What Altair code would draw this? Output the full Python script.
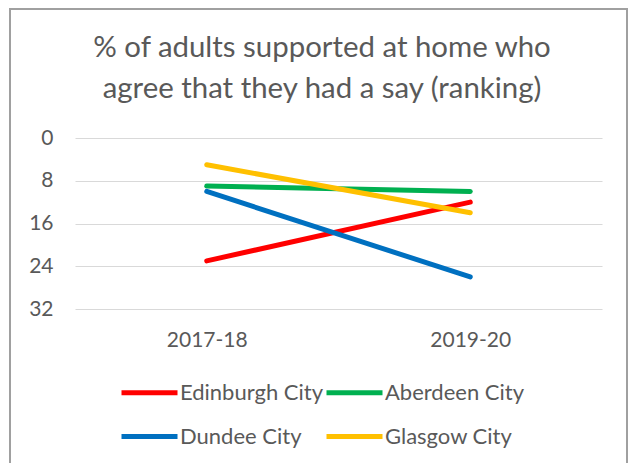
import altair as alt
import pandas as pd

years = ["2017-18", "2019-20"]
councils = ["Edinburgh City", "Aberdeen City", "Dundee City", "Glasgow City"]
edinburgh = [23, 12]
aberdeen = [9, 10]
dundee = [10, 26]
glasgow = [5, 14]
colors = ["#FF0000", "#00B050", "#0070C0", "#FFC000"]
y_ticks = [0, 8, 16, 24, 32]
title_lines = ["% of adults supported at home who", "agree that they had a say (ranking)"]

rows = []
for name, vals in zip(councils, [edinburgh, aberdeen, dundee, glasgow]):
    for yr, v in zip(years, vals):
        rows.append({"Council": name, "Year": yr, "Rank": v})
df = pd.DataFrame(rows)

TEXT = "#595959"
FONT = "Lato"

lines = alt.Chart(df).mark_line(strokeWidth=5, strokeCap="round").encode(
    x=alt.X("Year:N", sort=years, title=None,
            axis=alt.Axis(labelAngle=0, ticks=False, domain=False, grid=False,
                          labelPadding=20, labelFontSize=21, labelColor=TEXT, labelFont=FONT)),
    y=alt.Y("Rank:Q", scale=alt.Scale(domain=[0, 32], reverse=True, nice=False, zero=False),
            title=None,
            axis=alt.Axis(values=y_ticks, ticks=False, domain=False, gridColor="#D9D9D9",
                          gridWidth=1, labelPadding=22, labelFontSize=21, labelColor=TEXT,
                          labelFont=FONT)),
    color=alt.Color("Council:N", scale=alt.Scale(domain=councils, range=colors),
                    legend=alt.Legend(orient="none", legendX=44, legendY=224, columns=2,
                                      direction="horizontal",
                                      title=None, symbolType="stroke", symbolSize=3136,
                                      symbolStrokeWidth=5, labelFontSize=22, labelFont=FONT,
                                      labelColor=TEXT, labelLimit=300, columnPadding=-9,
                                      rowPadding=2, labelOffset=0)),
)

frame_df = pd.DataFrame({"a": [0]})
frame_color = "#A0A0A0"
left = alt.Chart(frame_df).mark_rule(color=frame_color, strokeWidth=2).encode(
    x=alt.value(-65), y=alt.value(-130), y2=alt.value(330))
top = alt.Chart(frame_df).mark_rule(color=frame_color, strokeWidth=2).encode(
    x=alt.value(-65), x2=alt.value(552), y=alt.value(-129))
right = alt.Chart(frame_df).mark_rule(color=frame_color, strokeWidth=2).encode(
    x=alt.value(552), y=alt.value(-130), y2=alt.value(330))

title1 = alt.Chart(frame_df).mark_text(fontSize=29.4, font=FONT, color=TEXT, align="center",
                                       baseline="middle").encode(
    x=alt.value(247), y=alt.value(-90), text=alt.value(title_lines[0]))
title2 = alt.Chart(frame_df).mark_text(fontSize=29.4, font=FONT, color=TEXT, align="center",
                                       baseline="middle").encode(
    x=alt.value(247), y=alt.value(-49), text=alt.value(title_lines[1]))

chart = alt.layer(lines, left, top, right, title1, title2).properties(
    width=527, height=171,
    padding={"left": 67, "top": 130, "right": 26, "bottom": 154},
    autosize="none",
    background="white",
).configure_view(stroke=None)

chart.save("out.html", embed_options={"renderer": "svg", "actions": False})
